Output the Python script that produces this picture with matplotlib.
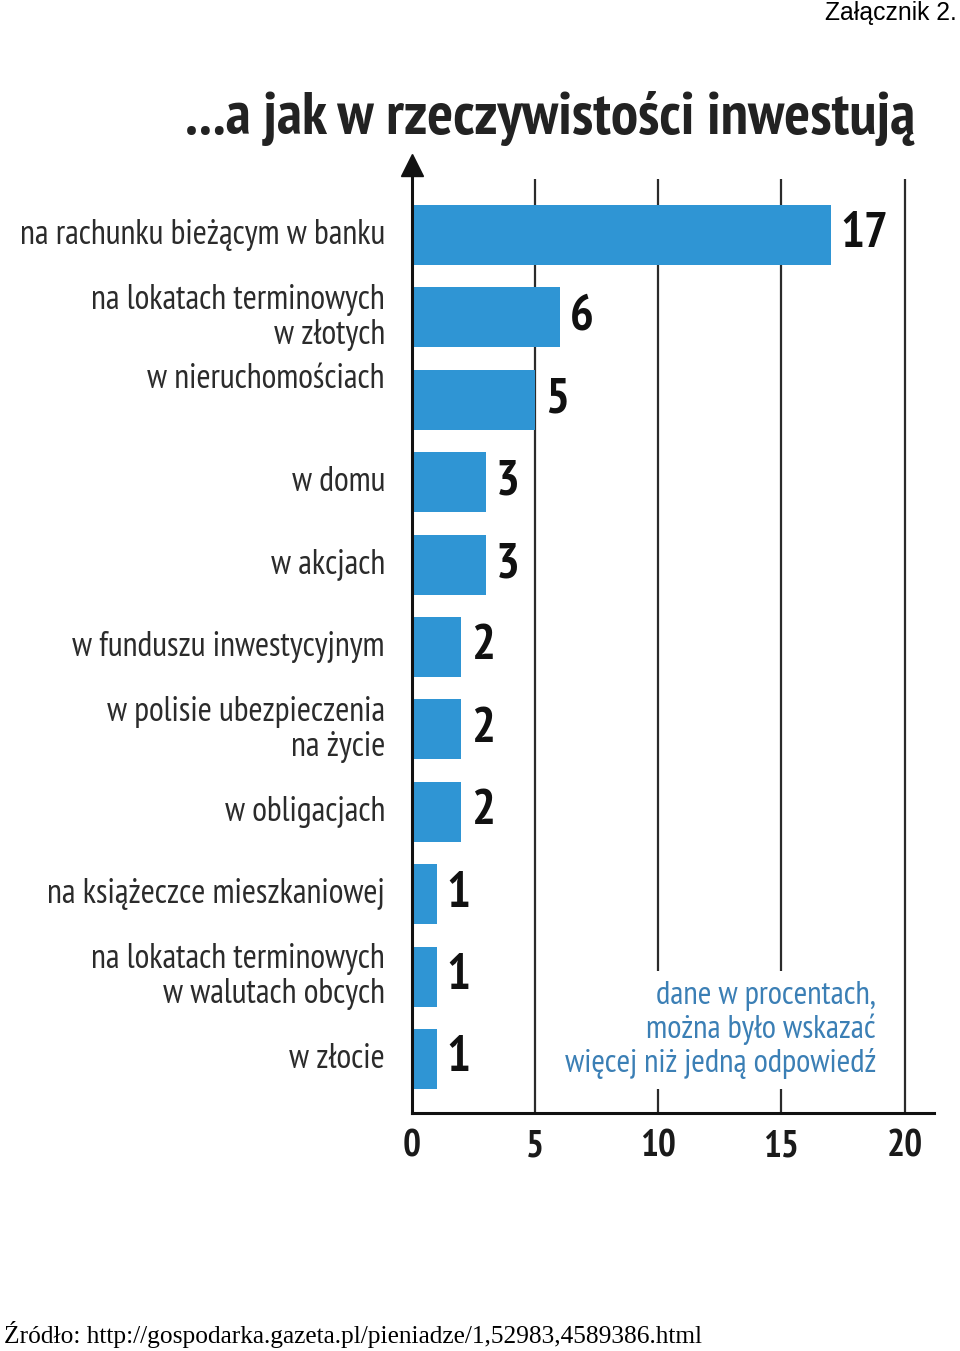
import matplotlib
matplotlib.use("Agg")
import matplotlib.pyplot as plt
from matplotlib import font_manager

# dane
kategorie = [
    "na rachunku bieżącym w banku",
    "na lokatach terminowych\nw złotych",
    "w nieruchomościach",
    "w domu",
    "w akcjach",
    "w funduszu inwestycyjnym",
    "w polisie ubezpieczenia\nna życie",
    "w obligacjach",
    "na książeczce mieszkaniowej",
    "na lokatach terminowych\nw walutach obcych",
    "w złocie",
]
wartosci = [17, 6, 5, 3, 3, 2, 2, 2, 1, 1, 1]
ticki = [0, 5, 10, 15, 20]
tytul = "...a jak w rzeczywistości inwestują"
notka = "dane w procentach,\nmożna było wskazać\nwięcej niż jedną odpowiedź"

# waski krój jesli jest, inaczej DejaVu
nazwy = {f.name for f in font_manager.fontManager.ttflist}
kandydaci = ["PT Sans Narrow", "Fira Sans Condensed", "Barlow Condensed",
             "Roboto Condensed", "Archivo Narrow", "DejaVu Sans"]
waska = next(k for k in kandydaci if k in nazwy or k == "DejaVu Sans")

NIEBIESKI = "#2f95d4"
SZARY = "#2b2b2b"

fig = plt.figure(figsize=(9.6, 13.51), dpi=100)
ax = fig.add_axes([0.4292, 0.1762, 0.5438, 0.7017])

y = list(range(len(wartosci)))
ax.vlines(ticki[1:], 10.655, -0.68, colors=SZARY, linewidth=1.6, zorder=1)
ax.barh(y, wartosci, height=0.73, color=NIEBIESKI, zorder=2)

ax.set_xlim(0, 21.2)
ax.set_ylim(10.655, -0.85)

for sp in ["top", "right"]:
    ax.spines[sp].set_visible(False)
for sp in ["left", "bottom"]:
    ax.spines[sp].set_linewidth(2.2)
    ax.spines[sp].set_color("#111111")
    ax.spines[sp].set_zorder(3)

ax.plot(0, -0.85, marker="^", markersize=16, color="#111111", clip_on=False, zorder=4)

ax.set_yticks([])
ax.set_xticks(ticki)
ax.set_xticklabels([str(t) for t in ticki], family=waska, fontweight="bold",
                   fontsize=27, color="#1a1a1a")
ax.tick_params(axis="x", length=0, pad=12)

etykiety = []
liczby = []
for i, (k, v) in enumerate(zip(kategorie, wartosci)):
    dy = -0.25 if k == "w nieruchomościach" else 0
    etykiety.append(ax.text(-1.1, i + dy, k, ha="right", va="center", family=waska,
                            fontsize=22, color=SZARY, linespacing=1.1))
    liczby.append(ax.text(v + 0.4, i, str(v), ha="left", va="center", family=waska,
                          fontweight="bold", fontsize=34, color="#111111"))

# notka na bialym tle - zaslania linie siatki
t_notka = fig.text(0.9125, 0.2376, notka, ha="right", va="center", family=waska,
                   fontsize=21, color="#3b7fb5", linespacing=1.1,
                   bbox=dict(facecolor="white", edgecolor="none", pad=7))
t_tytul = fig.text(0.193, 0.912, tytul, ha="left", va="center", family=waska,
                   fontweight="bold", fontsize=37, color="#222222")

fig.text(0.997, 0.9905, "Załącznik 2.", ha="right", va="center", family="Liberation Sans",
         fontsize=17.8, color="#000000")
fig.text(0.004, 0.012, "Źródło: http://gospodarka.gazeta.pl/pieniadze/1,52983,4589386.html",
         ha="left", va="center", family="Liberation Serif", fontsize=18.3, color="#000000")

# dopasowanie rozmiarow do szerokosci z oryginalu
fig.canvas.draw()
r = fig.canvas.get_renderer()


def skala(t, szer):
    return szer / t.get_window_extent(r).width


t_tytul.set_fontsize(t_tytul.get_fontsize() * skala(t_tytul, 730))
t_notka.set_fontsize(t_notka.get_fontsize() * skala(t_notka, 311))
s = skala(etykiety[0], 365)
for t in etykiety:
    t.set_fontsize(t.get_fontsize() * s)
s = skala(liczby[0], 48)
for t in liczby:
    t.set_fontsize(t.get_fontsize() * s)
tl = ax.get_xticklabels()
s = skala(tl[-1], 36)
for t in tl:
    t.set_fontsize(t.get_fontsize() * s)

fig.savefig("out.png", dpi=100)
